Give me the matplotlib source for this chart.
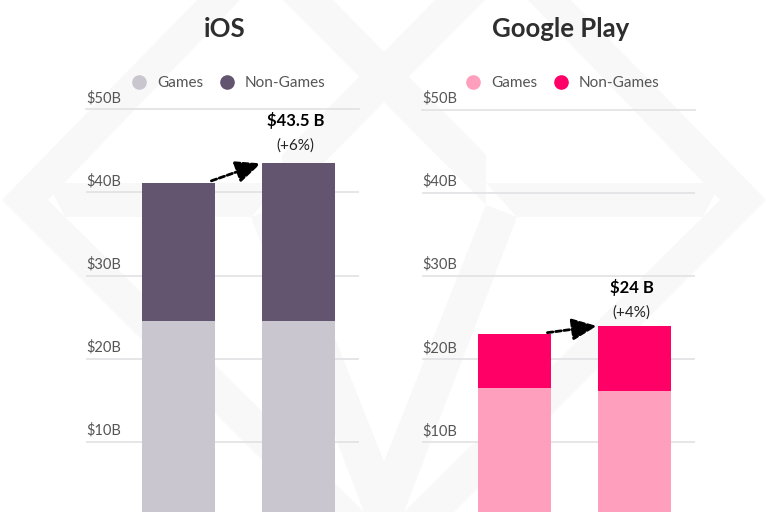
import matplotlib
matplotlib.use('Agg')
import matplotlib.pyplot as plt
from matplotlib.lines import Line2D
from matplotlib.patches import Polygon

plt.rcParams['font.family'] = ['Lato', 'DejaVu Sans']

# data (billions of dollars)
periods = ['Previous', 'Current']
ios_games = [24.6, 24.6]
ios_non_games = [16.6, 18.9]
play_games = [16.6, 16.25]
play_non_games = [6.4, 7.75]

y_ticks = [10, 20, 30, 40, 50]
y_tick_labels = ['$10B', '$20B', '$30B', '$40B', '$50B']
legend_labels = ['Games', 'Non-Games']

W, H = 768, 512
BAR_WIDTH = 73 / 120
PX_PER_UNIT = 8.32


def add_axes_px(fig, left, right, top):
    # axes from pixel edges, the bottom of the axes is the bottom of the image
    return fig.add_axes([left / W, 0, (right - left) / W, (H - top) / H])


def draw_watermark(fig):
    # pale logo behind both charts
    bg = fig.add_axes([0, 0, 1, 1], zorder=0)
    bg.set_xlim(0, W)
    bg.set_ylim(H, 0)
    bg.axis('off')
    left_shapes = [
        [(197, 0), (2, 200), (314, 512), (364, 512), (65, 217), (48, 200), (240, 0)],
        [(283, 0), (333, 0), (486, 155), (486, 205)],
        [(48, 183), (282, 183), (251, 217), (65, 217)],
        [(282, 205), (251, 217), (364, 512), (404, 512)],
    ]
    for shape in left_shapes:
        bg.add_patch(Polygon(shape, color='#f8f8f9', lw=0))
        mirrored = [(W - x, y) for x, y in shape]
        bg.add_patch(Polygon(mirrored, color='#f8f8f9', lw=0))


def draw_panel(fig, left, top, title, games, non_games, colors, total_label, change_label,
               label_offsets, legend_x):
    ax = add_axes_px(fig, left, left + 273, top)
    ax.patch.set_alpha(0)
    ax.set_zorder(1)

    x = range(len(periods))
    ax.bar(x, games, width=BAR_WIDTH, color=colors[0], zorder=3)
    ax.bar(x, non_games, width=BAR_WIDTH, bottom=games, color=colors[1], zorder=3)

    ax.set_xlim(-92.5 / 120, 180.5 / 120)
    ax.set_ylim(50 - (H - top) / PX_PER_UNIT, 50)
    ax.set_xticks([])
    ax.set_yticks(y_ticks)
    ax.set_yticklabels([])
    ax.tick_params(length=0)
    ax.grid(axis='y', color='#e2e2e4', lw=1.2, zorder=1)
    ax.set_axisbelow(True)
    for spine in ax.spines.values():
        spine.set_visible(False)
    ax.yaxis.get_gridlines()[-1].set_clip_on(False)

    # tick labels sit on top of the gridlines
    for tick, label in zip(y_ticks, y_tick_labels):
        ax.annotate(label, (0, tick), xycoords=ax.get_yaxis_transform(), xytext=(0, 3),
                    textcoords='offset points', ha='left', va='bottom', fontsize=10.5,
                    color='#555555', annotation_clip=False)

    fig.text((left + 139) / W, 1 - 29 / H, title, ha='center', va='center', fontsize=18.5,
             fontweight='bold', color='#2e2e2e')

    handles = [Line2D([], [], marker='o', ls='', ms=9.5, color=c) for c in colors]
    fig.legend(handles, legend_labels, loc='center', bbox_to_anchor=(legend_x / W, 1 - 83 / H),
               ncol=2, frameon=False, fontsize=11, labelcolor='#555555', handletextpad=0.2,
               columnspacing=0.5)

    totals = [g + n for g, n in zip(games, non_games)]

    # dashed arrow between the two bars
    ax.annotate('', xy=(1 - BAR_WIDTH / 2 - 0.01, totals[1]),
                xytext=(BAR_WIDTH / 2 - 0.03, totals[0] + 0.2),
                arrowprops=dict(arrowstyle='-|>,head_length=0.95,head_width=0.42', color='black',
                                lw=2, ls=(0, (2, 1)), mutation_scale=16, shrinkA=0, shrinkB=0),
                zorder=5)

    ax.annotate(total_label, (1, totals[1]), xytext=(-2, label_offsets[0]),
                textcoords='offset points', ha='center', va='center', fontsize=12,
                fontweight='bold', color='black', annotation_clip=False)
    ax.annotate(change_label, (1, totals[1]), xytext=(-2, label_offsets[1]),
                textcoords='offset points', ha='center', va='center', fontsize=11,
                color='#222222', annotation_clip=False)


fig = plt.figure(figsize=(W / 100, H / 100), dpi=100, facecolor='white')
draw_watermark(fig)

draw_panel(fig, 86, 109.3, 'iOS', ios_games, ios_non_games, ['#c9c6d0', '#635470'],
           '$43.5 B', '(+6%)', (31, 13), 225)
draw_panel(fig, 422, 109.7, 'Google Play', play_games, play_non_games, ['#fd9fbd', '#ff0066'],
           '$24 B', '(+4%)', (28, 10), 559)

fig.savefig('out.png', dpi=100)
